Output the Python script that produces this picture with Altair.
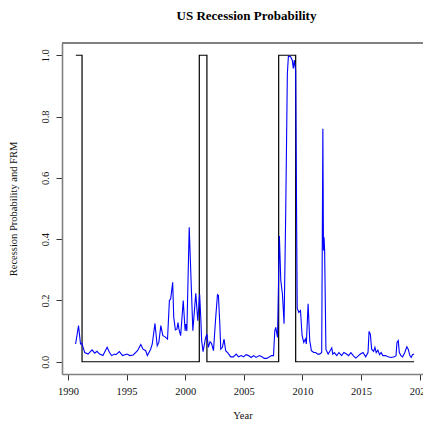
import altair as alt
import pandas as pd

# Recession probability (blue)
prob_year = [
    1990.65, 1990.90, 1991.07, 1991.18, 1991.43, 1991.71, 1992.05, 1992.28, 1992.47, 1992.70,
    1992.98, 1993.34, 1993.54, 1993.73, 1993.96, 1994.10, 1994.38, 1994.66, 1995.03, 1995.28,
    1995.56, 1995.93, 1996.21, 1996.40, 1996.63, 1996.77, 1997.05, 1997.19, 1997.42, 1997.61,
    1997.75, 1997.92, 1998.09, 1998.26, 1998.49, 1998.65, 1998.76, 1998.93, 1999.02, 1999.16,
    1999.30, 1999.38, 1999.46, 1999.61, 1999.83, 1999.99, 2000.05, 2000.14, 2000.34, 2000.65,
    2000.90, 2001.07, 2001.23, 2001.33, 2001.40, 2001.52, 2001.74, 2001.85, 2001.97, 2002.11,
    2002.24, 2002.41, 2002.58, 2002.75, 2002.83, 2002.95, 2003.03, 2003.17, 2003.31, 2003.45,
    2003.65, 2003.88, 2004.10, 2004.35, 2004.55, 2004.77, 2004.97, 2005.19, 2005.40, 2005.62,
    2005.84, 2006.04, 2006.32, 2006.54, 2006.74, 2006.96, 2007.19, 2007.36, 2007.53, 2007.64,
    2007.72, 2007.87, 2008.03, 2008.15, 2008.29, 2008.43, 2008.57, 2008.71, 2008.80, 2008.99,
    2009.13, 2009.22, 2009.30, 2009.42, 2009.55, 2009.69, 2009.83, 2009.97, 2010.11, 2010.25,
    2010.33, 2010.48, 2010.62, 2010.76, 2010.96, 2011.13, 2011.30, 2011.46, 2011.64, 2011.74,
    2011.79, 2011.84, 2011.89, 2012.00, 2012.19, 2012.36, 2012.50, 2012.58, 2012.72, 2012.92,
    2013.11, 2013.34, 2013.53, 2013.76, 2013.93, 2014.13, 2014.33, 2014.55, 2014.78, 2014.94,
    2015.17, 2015.39, 2015.59, 2015.68, 2015.79, 2015.90, 2016.07, 2016.18, 2016.29, 2016.43,
    2016.57, 2016.71, 2016.85, 2017.07, 2017.30, 2017.56, 2017.84, 2017.98, 2018.06, 2018.17,
    2018.26, 2018.40, 2018.54, 2018.73, 2018.90, 2019.02, 2019.16, 2019.27, 2019.38, 2019.52,
]
prob_value = [
    0.058, 0.118, 0.058, 0.060, 0.030, 0.025, 0.039, 0.028, 0.034, 0.025,
    0.020, 0.047, 0.030, 0.020, 0.025, 0.023, 0.033, 0.020, 0.025, 0.020,
    0.022, 0.036, 0.056, 0.041, 0.036, 0.020, 0.041, 0.058, 0.125, 0.052,
    0.063, 0.118, 0.085, 0.082, 0.074, 0.200, 0.205, 0.259, 0.145, 0.104,
    0.107, 0.128, 0.107, 0.085, 0.200, 0.101, 0.123, 0.100, 0.439, 0.101,
    0.223, 0.134, 0.220, 0.140, 0.069, 0.033, 0.079, 0.090, 0.047, 0.065,
    0.060, 0.036, 0.134, 0.219, 0.216, 0.123, 0.041, 0.047, 0.074, 0.036,
    0.028, 0.016, 0.016, 0.025, 0.016, 0.020, 0.016, 0.023, 0.020, 0.014,
    0.020, 0.014, 0.020, 0.016, 0.011, 0.011, 0.016, 0.020, 0.020, 0.101,
    0.112, 0.079, 0.410, 0.265, 0.221, 0.124, 0.483, 0.940, 0.997, 0.995,
    0.984, 0.957, 0.984, 0.950, 0.175, 0.161, 0.167, 0.085, 0.063, 0.074,
    0.058, 0.189, 0.069, 0.036, 0.030, 0.030, 0.025, 0.025, 0.030, 0.760,
    0.363, 0.406, 0.363, 0.040, 0.025, 0.036, 0.045, 0.025, 0.030, 0.020,
    0.030, 0.020, 0.030, 0.025, 0.020, 0.030, 0.020, 0.012, 0.020, 0.025,
    0.030, 0.016, 0.030, 0.099, 0.090, 0.041, 0.034, 0.047, 0.030, 0.038,
    0.023, 0.030, 0.020, 0.020, 0.016, 0.014, 0.016, 0.020, 0.063, 0.069,
    0.030, 0.020, 0.016, 0.030, 0.049, 0.041, 0.020, 0.014, 0.023, 0.025,
]

# NBER recession indicator (black step line)
rec_year = [1990.67, 1991.20, 2001.20, 2001.85, 2007.97, 2009.42, 2019.52]
rec_value = [1, 0, 1, 0, 1, 0, 0]

x_ticks = [1990, 1995, 2000, 2005, 2010, 2015, 2020]
y_ticks = [0.0, 0.2, 0.4, 0.6, 0.8, 1.0]
x_domain = [1989.49, 2020.28]
y_domain = [-0.04, 1.04]

prob_df = pd.DataFrame({"year": prob_year, "value": prob_value})
rec_df = pd.DataFrame({"year": rec_year, "value": rec_value})

FONT = "Liberation Serif"
FRAME = "#808080"

x_enc = alt.X(
    "year:Q",
    scale=alt.Scale(domain=x_domain, nice=False, zero=False),
    axis=alt.Axis(
        values=x_ticks, format="d", title="Year", grid=False,
        tickSize=6, tickColor="#333", domainColor=FRAME, domainWidth=1.6,
        labelFont=FONT, labelFontSize=10.5, labelColor="#111", labelPadding=6,
        labelFlush=False, labelOverlap=False,
        titleFont=FONT, titleFontSize=10.5, titleFontWeight="normal", titleColor="#111",
        titlePadding=14,
    ),
)
y_enc = alt.Y(
    "value:Q",
    scale=alt.Scale(domain=y_domain, nice=False, zero=False),
    axis=alt.Axis(
        values=y_ticks, format=".1f", title="Recession Probability and FRM", grid=False,
        tickSize=6, tickColor="#333", domainColor=FRAME, domainWidth=1.6,
        labelAngle=270, labelFont=FONT, labelFontSize=10.5, labelColor="#111",
        labelPadding=6, labelFlush=False, labelOverlap=False,
        titleFont=FONT, titleFontSize=10.5, titleFontWeight="normal", titleColor="#111",
        titlePadding=22,
    ),
)

rec_line = alt.Chart(rec_df).mark_line(
    color="black", strokeWidth=1.2, interpolate="step-after"
).encode(x=x_enc, y=y_enc)

prob_line = alt.Chart(prob_df).mark_line(
    color="#0000ff", strokeWidth=1.1
).encode(x="year:Q", y="value:Q")

# top edge of the plot box (at the top of the y domain)
top_edge = alt.Chart(rec_df).mark_rule(color=FRAME, strokeWidth=1.6).encode(
    y=alt.datum(y_domain[1])
)

chart = alt.layer(rec_line, prob_line, top_edge).properties(
    width=361,
    height=331,
    autosize=alt.AutoSizeParams(type="none"),
    padding={"left": 54, "top": 35, "right": 0, "bottom": 46},
    title=alt.TitleParams(
        "US Recession Probability", font=FONT, fontSize=13, fontWeight="bold",
        color="#000", anchor="middle", offset=19, dx=4,
    ),
).configure_view(stroke=None).configure(background="white")

chart.save("out.html", embed_options={"renderer": "svg", "actions": False})
